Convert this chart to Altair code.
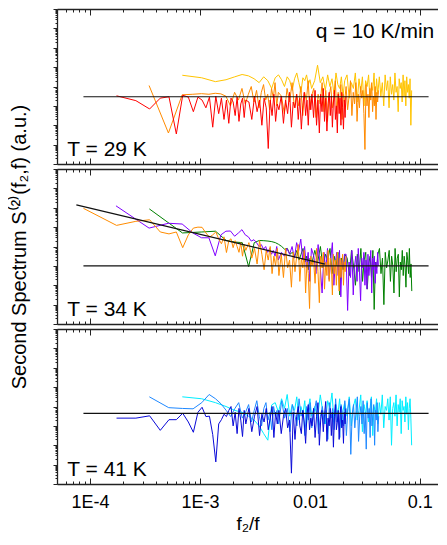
import altair as alt
import pandas as pd

FONT = "Liberation Sans"

# spectra are sampled at f2/f = dx * k
K_FROM2 = list(range(2, 31)) + list(range(32, 61, 2)) + list(range(63, 121, 3)) + list(range(124, 245, 4))
K_FROM1 = [1] + K_FROM2

# ---- values: log10 of S(2) in a.u. ----
# panel 1, T = 29 K
p1_red = [3.52, 3.27, 2.84, 3.40, 3.47, 1.55, 3.55, 3.45, 2.70, 3.45, 3.30, 2.90, 3.45, 1.90, 3.50, 2.60, 3.40, 2.30, 3.30, 2.10,
          3.40, 3.20, 2.50, 3.45, 2.20, 3.10, 3.40, 2.40, 3.30,
          3.2, 2.3, 3.5, 2.7, 3.3, 2.0, 3.4, 2.9, 0.8, 3.3, 2.5, 3.6, 2.2, 3.1, 2.8,
          3.5, 2.1, 3.3, 2.6, 3.7, 1.9, 3.2, 2.9, 3.6, 2.3, 3.4, 1.8, 3.0, 3.7, 2.5, 3.3, 2.0, 3.5, 2.8, 3.6,
          2.4, 3.8, 2.0, 3.3, 1.6, 3.6, 2.7, 3.9, 2.2, 3.4, 1.7, 3.1, 3.7, 2.5, 3.5, 1.9, 3.2, 3.8, 2.3, 3.0,
          1.6, 3.6, 2.6, 3.4, 2.0, 3.7, 2.9, 1.8, 3.3, 2.4, 3.5]
p1_orange = [4.05, 1.6, 3.57, 3.6, 3.63, 3.6, 3.65, 3.62, 3.5, 3.0, 3.7, 3.3, 3.9, 3.1, 3.6, 4.0, 3.2, 3.8, 2.9, 3.7,
             4.1, 3.3, 3.6, 2.8, 3.9, 3.4, 4.2, 3.0, 3.7,
             3.5, 2.6, 3.9, 3.2, 4.2, 2.9, 3.6, 3.0, 4.0, 2.5, 3.7, 3.3, 4.3, 2.8, 3.5,
             3.9, 2.4, 3.6, 3.1, 4.2, 2.7, 3.8, 2.2, 3.5, 4.0, 2.9, 3.3, 4.3, 2.6, 3.7, 3.0, 4.1, 2.3, 3.6, 3.2,
             4.0, 2.8, 3.5, 4.3, 2.5, 3.7, 3.1, 4.2, 2.2, 3.6, 2.9, 4.0, 3.4, 3.8, 2.6, 0.75, 4.1, 3.0, 3.6, 2.4,
             3.9, 3.3, 4.2, 2.7, 3.5, 3.0, 4.0, 2.3, 3.7, 3.2, 3.8]
p1_gold = [4.58, 4.45, 4.25, 4.35, 4.5, 4.62, 4.55, 4.4, 4.2, 4.5, 4.3, 3.9, 4.45, 4.6, 4.35, 4.0, 4.5, 4.3, 3.8, 4.4,
           4.7, 4.2, 3.7, 4.45, 4.3, 4.6, 4.1, 4.35, 3.9,
           4.3, 5.1, 4.2, 4.5, 3.8, 4.6, 4.0, 4.4, 3.6, 4.7, 4.1, 3.9, 4.5, 3.5, 4.3,
           4.6, 3.4, 4.2, 3.9, 4.7, 3.2, 4.4, 3.7, 4.5, 3.0, 4.3, 4.0, 4.6, 3.3, 4.1, 3.8, 4.7, 3.1, 4.4, 3.6,
           4.5, 3.5, 4.2, 3.0, 4.6, 3.8, 4.3, 2.9, 4.5, 3.6, 4.1, 3.3, 4.7, 3.7, 4.0, 2.7, 4.4, 3.9, 4.2, 3.2,
           4.6, 3.5, 4.3, 3.0, 4.5, 3.7, 4.1, 3.4, 4.4, 2.0, 3.8]
# panel 2, T = 34 K
p2_orange = [5.97, 5.09, 5.30, 5.38, 4.75, 4.65, 4.75, 3.94, 4.60, 4.95, 5.00, 4.99, 4.70, 4.48, 4.60, 4.75, 4.40, 4.14, 4.50, 3.69,
             4.30, 4.40, 3.94, 4.30, 4.00, 3.70, 4.20, 3.50, 4.10, 3.80,
             4.2, 3.4, 3.9, 3.1, 4.3, 3.6, 2.8, 3.8, 3.3, 4.0, 2.6, 3.5, 3.0, 3.9, 2.5,
             3.6, 2.4, 3.9, 2.9, 3.3, 1.9, 3.7, 2.7, 3.5, 4.1, 2.2, 3.4, 2.9, 3.8, 1.6, 3.2, 2.6, 0.8, 3.5, 3.0,
             3.3, 2.1, 3.9, 2.7, 1.1, 3.5, 2.9, 3.7, 1.8, 3.2, 2.5, 3.8, 2.2, 3.4, 3.0, 1.5, 3.6, 2.6, 3.3, 2.0,
             3.7, 2.8, 1.7, 3.4, 2.4, 3.1, 3.6, 2.0, 3.2, 2.7, 3.5]
p2_purple = [6.10, 4.95, 5.20, 5.16, 4.70, 4.45, 4.45, 3.52, 4.60, 4.79, 4.80, 4.53, 4.70, 4.87, 4.60, 4.50, 4.28, 4.35, 4.20, 4.00,
             4.10, 3.86, 4.00, 3.70, 3.90, 3.60, 3.80, 3.50, 4.00, 3.30,
             3.7, 3.5, 3.9, 3.6, 4.0, 3.4, 4.2, 3.8, 4.38, 3.3, 4.0, 2.9, 3.7, 2.2, 3.9,
             3.5, 2.6, 4.1, 3.0, 1.6, 3.7, 2.8, 3.9, 2.3, 3.4, 4.2, 2.0, 3.2, 3.7, 2.5, 3.8, 1.4, 3.3, 2.9, 3.6,
             3.6, 0.7, 3.2, 2.4, 3.8, 1.5, 3.0, 3.5, 2.2, 3.9, 2.7, 1.2, 3.4, 2.9, 3.7, 2.0, 3.3, 1.8, 3.6, 2.5,
             3.1, 3.8, 1.6, 3.4, 2.8, 3.5, 2.1, 3.2, 2.6, 3.7, 3.0]
p2_green = [5.94, 4.70, 4.75, 4.79, 4.31, 4.23, 4.20, 2.96, 4.20, 4.31, 4.30, 4.28, 4.25, 4.20, 4.11, 4.00, 3.86, 3.90, 3.60, 3.70,
            3.50, 3.80, 3.30, 3.60, 3.90, 3.20, 3.50, 2.80, 3.40, 3.10,
            3.8, 3.2, 4.0, 2.9, 3.6, 3.3, 3.9, 2.6, 3.5, 3.0, 3.7, 1.5, 3.4, 2.8, 3.6,
            3.4, 2.5, 3.8, 3.0, 2.0, 3.6, 2.7, 3.9, 2.2, 3.3, 3.7, 1.8, 3.1, 3.5, 2.4, 3.8, 0.75, 3.2, 2.9, 3.6,
            3.9, 2.6, 3.4, 1.0, 3.7, 2.9, 3.3, 3.8, 2.2, 3.5, 3.0, 1.6, 3.9, 2.7, 3.4, 3.6, 1.4, 3.2, 2.8, 3.8,
            2.5, 3.5, 3.0, 1.9, 3.7, 3.3, 2.6, 3.9, 2.4, 3.1, 1.7]
# panel 3, T = 41 K
p3_dark = [3.40, 3.40, 3.52, 2.77, 3.32, 3.32, 3.65, 3.20, 2.67, 3.70, 3.96, 3.48, 3.50, 2.55, 1.14, 3.10, 3.32, 3.60, 3.48, 3.80,
           4.00, 3.00, 3.70, 2.60, 3.90, 3.30, 2.45, 3.80, 3.10,
           3.9, 2.7, 3.5, 4.0, 2.5, 3.6, 3.2, 3.9, 2.8, 3.4, 4.0, 2.4, 3.7, 3.1, 3.8,
           2.6, 3.5, 3.9, 2.9, 3.3, 0.56, 3.7, 2.3, 3.5, 4.0, 3.0, 2.6, 3.8, 3.2, 2.1, 3.6, 4.1, 2.8, 3.4, 3.0,
           3.9, 2.4, 3.5, 4.2, 2.0, 3.3, 3.8, 2.7, 3.6, 4.26, 2.2, 3.4, 3.0, 3.9, 2.5, 3.7, 1.9, 3.5, 4.1, 2.8,
           3.2, 3.8, 2.3, 3.6, 4.0, 2.9, 3.3, 2.1, 3.7, 3.1, 3.9]
p3_mid = [4.50, 3.94, 3.90, 3.88, 4.20, 4.62, 4.40, 4.13, 3.80, 3.48, 3.90, 4.20, 3.40, 3.70, 4.10, 3.20, 3.80, 4.30, 3.50, 3.00,
          3.90, 4.20, 3.30, 3.70, 2.80, 4.00, 3.50, 3.80, 3.10,
          4.3, 3.4, 3.9, 2.7, 4.1, 3.6, 3.0, 4.4, 3.5, 3.8, 2.5, 4.0, 3.3, 4.2, 2.9,
          3.7, 4.3, 2.6, 3.5, 4.0, 3.1, 3.8, 2.3, 4.2, 3.4, 3.9, 2.8, 4.4, 3.2, 3.7, 2.4, 4.1, 3.6, 3.0, 4.3,
          2.5, 3.9, 4.4, 1.53, 3.6, 4.1, 2.9, 3.8, 4.5, 2.2, 3.5, 4.0, 3.1, 4.3, 2.6, 3.7, 1.8, 4.2, 3.4, 3.9,
          2.4, 4.4, 3.0, 3.6, 4.1, 2.0, 3.8, 3.3, 4.2, 2.7, 3.5]
p3_cyan = [4.50, 4.40, 4.20, 4.00, 3.80, 3.70, 3.50, 3.30, 3.00, 2.60, 2.26, 4.08, 4.20, 3.70, 4.40, 3.90, 4.62, 3.50, 4.10, 3.80,
           4.50, 3.30, 4.00, 3.60, 4.30, 3.10, 3.90, 4.40, 3.50,
           4.0, 3.4, 4.6, 3.7, 3.1, 4.3, 3.9, 4.7, 3.2, 4.1, 3.6, 4.4, 2.9, 3.8, 4.2,
           3.5, 4.5, 3.0, 4.0, 4.4, 3.3, 3.8, 4.6, 2.7, 4.1, 3.6, 4.3, 3.2, 3.9, 4.5, 2.5, 4.0, 3.7, 4.4, 3.1,
           4.2, 3.6, 4.6, 2.9, 4.0, 3.8, 4.4, 3.3, 4.5, 2.0, 3.9, 4.2, 3.5, 4.6, 3.0, 4.1, 3.7, 4.4, 2.6, 4.3,
           3.8, 4.0, 3.2, 4.5, 3.6, 4.2, 2.8, 3.9, 4.4, 3.4, 2.0]

# (panel, name, dx, k-list, colour, values); drawing order bottom -> top
SERIES = [
    (1, "p1_gold", 3.45e-4, K_FROM2, "#FFC400", p1_gold),
    (1, "p1_orange", 1.72e-4, K_FROM2, "#FF8A00", p1_orange),
    (1, "p1_red", 0.87e-4, K_FROM2, "#FF0000", p1_red),
    (2, "p2_green", 3.46e-4, K_FROM1, "#008000", p2_green),
    (2, "p2_purple", 1.72e-4, K_FROM1, "#8000FF", p2_purple),
    (2, "p2_orange", 0.87e-4, K_FROM1, "#FF8C00", p2_orange),
    (3, "p3_cyan", 3.45e-4, K_FROM2, "#00EEFF", p3_cyan),
    (3, "p3_mid", 1.73e-4, K_FROM2, "#1E88FF", p3_mid),
    (3, "p3_dark", 0.87e-4, K_FROM2, "#0A0AD8", p3_dark),
]

# reference (white-noise) levels and the power-law fit of panel 2
flat_x = [8.7e-5, 0.12]
flat_level = {1: 2950, 2: 1000, 3: 4400}
fit_x = [7.5e-5, 0.0137]
fit_y = [1.4e6, 1230]

panel_labels = {1: "T = 29 K", 2: "T = 34 K", 3: "T = 41 K"}
rate_label = "q = 10 K/min"

tick_values = [1e-4, 1e-3, 1e-2, 1e-1]
tick_labels = ["1E-4", "1E-3", "0.01", "0.1"]

# ---- build tables ----
rows = []
for p, name, dx, ks, col, vals in SERIES:
    kk = ks[:len(vals)]
    for k, v in zip(kk, vals):
        rows.append({"panel": p, "series": name, "k": k, "x": dx * k, "y": 10 ** v})
spec_df = pd.DataFrame(rows)

ref_rows = []
for p, lev in flat_level.items():
    for xv in flat_x:
        ref_rows.append({"panel": p, "seg": "flat", "x": xv, "y": lev})
for xv, yv in zip(fit_x, fit_y):
    ref_rows.append({"panel": 2, "seg": "fit", "x": xv, "y": yv})
ref_df = pd.DataFrame(ref_rows)

text_rows = [{"panel": p, "x": 6.2e-5, "y": 5.5, "label": lab} for p, lab in panel_labels.items()]
text_rows.append({"panel": 1, "x": 0.0113, "y": 6.5e6, "label": rate_label})
text_df = pd.DataFrame(text_rows)

# ---- scales / axes ----
XMIN, XMAX = 5e-5, 0.1462
x_scale = alt.Scale(type="log", domain=[XMIN, XMAX], nice=False)
y_scale = alt.Scale(type="log", domain=[1, 1e8], nice=False)

MAJOR = "abs(log(datum.value)/LN10 - round(log(datum.value)/LN10)) < 0.001"
x_tick_vals = [round(m * 10.0 ** e, 12) for e in range(-5, 0) for m in range(1, 10)]
x_tick_vals = [v for v in x_tick_vals if XMIN <= v <= XMAX]
y_tick_vals = [round(m * 10.0 ** e, 6) for e in range(0, 8) for m in range(1, 10)] + [1e8]

AX = "#222222"


def x_tick_axis(orient):
    return alt.Axis(orient=orient, values=x_tick_vals, labels=False, title=None, grid=False,
                    domainColor=AX, domainWidth=1.3, tickColor=AX, tickWidth=1,
                    tickSize={"condition": {"test": MAJOR, "value": -6}, "value": -3})


def y_axis(title):
    kw = dict(orient="left", values=y_tick_vals, labels=False, grid=False,
              domainColor=AX, domainWidth=1.3, tickColor=AX, tickWidth=1,
              tickSize={"condition": {"test": MAJOR, "value": 4}, "value": 2})
    if title:
        kw.update(title=title, titleFont=FONT, titleFontSize=20, titleFontWeight="normal",
                  titleColor="black", titlePadding=23)
    else:
        kw.update(title=None)
    return alt.Axis(**kw)


label_expr = " : ".join(
    f"datum.value < {v * 3.2} ? '{lab}'" for v, lab in zip(tick_values[:-1], tick_labels[:-1])
) + f" : '{tick_labels[-1]}'"

label_axis = alt.Axis(orient="bottom", values=tick_values, ticks=False, domain=False, grid=False,
                      labelExpr=label_expr, labelFont=FONT, labelFontSize=18, labelColor="black",
                      labelPadding=9, labelFlush=False, labelOverlap=False,
                      title="f₂/f", titleFont=FONT, titleFontSize=19, titleFontWeight="normal",
                      titleColor="black", titlePadding=3)

W, H = 381, 155


def make_panel(p, ytitle, bottom_labels):
    layers = []
    refs = ref_df[ref_df.panel == p]
    layers.append(
        alt.Chart(refs).mark_line(color="#111111", strokeWidth=1.2).encode(
            x=alt.X("x:Q", scale=x_scale, axis=x_tick_axis("bottom")),
            y=alt.Y("y:Q", scale=y_scale, axis=y_axis(ytitle)),
            detail="seg:N",
        )
    )
    ser = [s for s in SERIES if s[0] == p]
    for i, (pp, name, dx, ks, col, vals) in enumerate(ser):
        if i == 0:
            xa = x_tick_axis("top")
        elif i == 1 and bottom_labels:
            xa = label_axis
        else:
            xa = None
        layers.insert(i, alt.Chart(spec_df[spec_df.series == name]).mark_line(
            color=col, strokeWidth=1).encode(
            x=alt.X("x:Q", scale=x_scale, axis=xa),
            y=alt.Y("y:Q", scale=y_scale, axis=None),
            order="k:Q",
        ))
    layers.append(
        alt.Chart(text_df[text_df.panel == p]).mark_text(
            align="left", baseline="middle", font=FONT, fontSize=21, color="black").encode(
            x=alt.X("x:Q", scale=x_scale, axis=None),
            y=alt.Y("y:Q", scale=y_scale, axis=None),
            text="label:N",
        )
    )
    return alt.layer(*layers).resolve_axis(x="independent", y="independent").properties(width=W, height=H)


chart = alt.vconcat(
    make_panel(1, None, False),
    make_panel(2, "Second Spectrum S⁽²⁾(f₂,f) (a.u.)", False),
    make_panel(3, None, True),
    spacing=5,
    bounds="flush",
).properties(
    padding={"left": 1, "top": 0, "right": 0, "bottom": 0},
    background="white",
).configure_view(stroke=None)

chart.save("out.html", embed_options={"renderer": "svg", "actions": False})
